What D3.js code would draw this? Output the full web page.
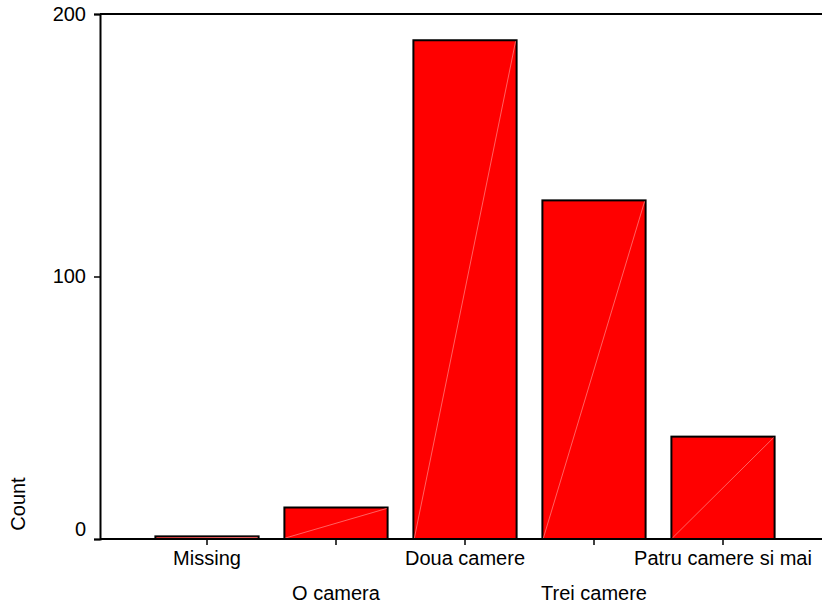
<!DOCTYPE html>
<html>
<head>
<meta charset="utf-8">
<script src="https://cdn.jsdelivr.net/npm/d3@7"></script>
<style>
  body { margin: 0; background: #fff; }
  text { font-family: "Liberation Sans", Arial, sans-serif; font-size: 20px; fill: #000; }
</style>
</head>
<body>
<script>
// Data
const categories = ['Missing', 'O camera', 'Doua camere', 'Trei camere', 'Patru camere si mai'];
const counts = [1, 12, 190, 129, 39];
const yTicks = [0, 100, 200];

const width = 822;
const height = 612;

const svg = d3.select('body')
  .append('svg')
  .attr('width', width)
  .attr('height', height);

// Scales
const x = d3.scaleBand()
  .domain(categories)
  .range([142.5, 787.5])
  .paddingInner(0.2)
  .paddingOuter(0.1);

const y = d3.scaleLinear()
  .domain([0, 200])
  .range([539, 14]);

// Bars
const bars = svg.selectAll('g.bar')
  .data(categories)
  .enter()
  .append('g')
  .attr('class', 'bar');

bars.append('rect')
  .attr('x', d => x(d))
  .attr('y', (d, i) => y(counts[i]))
  .attr('width', x.bandwidth())
  .attr('height', (d, i) => y(0) - y(counts[i]))
  .attr('fill', '#ff0000')
  .attr('stroke', '#000')
  .attr('stroke-width', 2);

// faint diagonal inside each bar
bars.append('line')
  .attr('x1', d => x(d) + 1)
  .attr('y1', y(0) - 1)
  .attr('x2', d => x(d) + x.bandwidth() - 1)
  .attr('y2', (d, i) => y(counts[i]) + 1)
  .attr('stroke', '#ff7a7a')
  .attr('stroke-width', 0.8);

// Top frame line
svg.append('line')
  .attr('x1', 100).attr('x2', width)
  .attr('y1', y(200)).attr('y2', y(200))
  .attr('stroke', '#000').attr('stroke-width', 2);

// Y axis
const yAxis = svg.append('g')
  .attr('transform', 'translate(100,0)')
  .call(d3.axisLeft(y).tickValues(yTicks).tickSize(6).tickPadding(8).tickFormat(d3.format('d')));
yAxis.select('.domain').attr('stroke-width', 2);
yAxis.selectAll('.tick line').attr('stroke-width', 1.5);
yAxis.selectAll('.tick text')
  .attr('font-size', 20)
  .attr('font-family', '"Liberation Sans", Arial, sans-serif')
  .attr('dy', d => d === 0 ? '-0.2em' : '0.32em');

// X axis
const xAxis = svg.append('g')
  .attr('transform', `translate(0,${y(0)})`)
  .call(d3.axisBottom(x).tickSize(6).tickSizeOuter(0));
xAxis.select('.domain')
  .attr('d', `M100,0H${width}`)
  .attr('stroke-width', 2);
xAxis.selectAll('.tick line').attr('stroke-width', 1.5);
xAxis.selectAll('.tick text')
  .attr('font-size', 20)
  .attr('font-family', '"Liberation Sans", Arial, sans-serif')
  .attr('dy', null)
  .attr('y', (d, i) => i % 2 === 0 ? 26 : 61);

// Y axis title
svg.append('text')
  .attr('transform', 'translate(25,504) rotate(-90)')
  .attr('text-anchor', 'middle')
  .text('Count');
</script>
</body>
</html>
